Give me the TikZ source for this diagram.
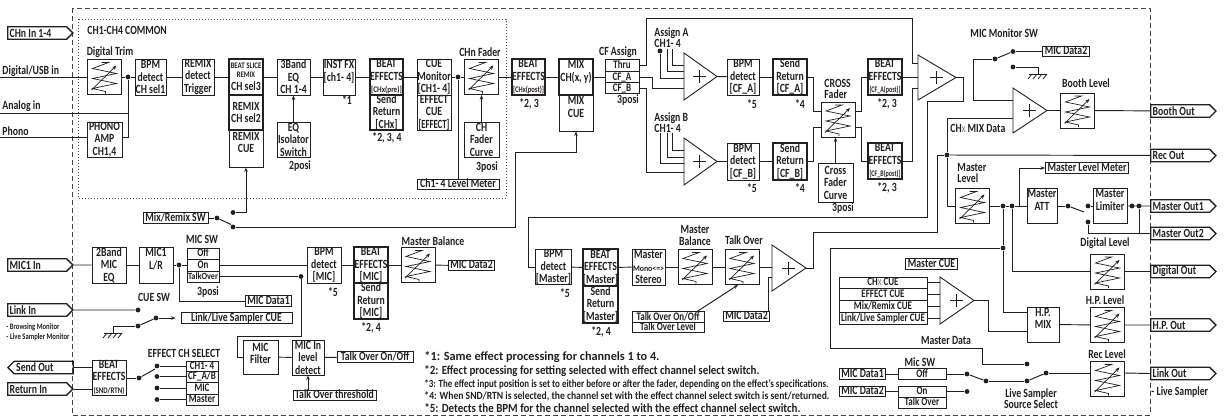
\documentclass[tikz,border=0pt]{standalone}
\usepackage{fontspec}
\usepackage{graphicx}
\setmainfont{Carlito}[FakeStretch=0.78]
\usetikzlibrary{shapes.symbols,arrows.meta,calc}
\definecolor{ink}{HTML}{231F20}
\newcommand\fw[2]{\resizebox{#1}{\height}{#2}}
\newcommand\mf{\fontsize{12.5}{12.5}\selectfont\bfseries}
\newcommand\rf{\fontsize{11.5}{11.5}\selectfont\bfseries}
\newcommand\sm{\fontsize{8.5}{8.5}\selectfont\bfseries}
\newcommand\smx{{\fontsize{9}{9}\selectfont\mdseries\color{ink!70}X}}
\newcommand\nsk{\spaceskip=0pt\xspaceskip=0pt\relax}
\newcommand\faderpic{%
 \begin{scope}[shift={(path picture bounding box.center)},line width=0.7pt]
 \draw (-3,-14.5) -- (4,-14.5) -- (-12,-8.5) -- (12,-3.5) -- (-12,1.5) -- (12,6.5) -- (-12,11.5) -- (1,14.5) -- (1,16.5);
 \draw[-{Stealth[length=4.5pt,width=3.5pt]}] (-13,13) -- (12,-11.5);
 \end{scope}}
\newcommand\summer[5]{%
 \draw[line width=0.9pt] (#2,{#3-#5/2}) -- ({#2+#4},#3) -- (#2,{#3+#5/2}) -- cycle;
 \coordinate (#1) at ({#2+0.48*#4},#3);
 \draw[line width=0.9pt] ($(#1)+(-6.5,0)$) -- ($(#1)+(6.5,0)$) ($(#1)+(0,-6.5)$) -- ($(#1)+(0,6.5)$);
 \coordinate (#1-out) at ({#2+#4},#3);}
\newcommand\gnd[2]{%
 \draw[line width=0.8pt] ({#1-9},#2) -- ({#1+9},#2);
 \foreach \k in {-6,-1,4,9}{\draw[line width=0.8pt] ({#1+\k},#2) -- ({#1+\k-4},{#2+5});}}
\begin{document}
\begin{tikzpicture}[x=1pt,y=-1pt,line width=0.95pt,draw=ink,text=ink,
 every node/.style={font=\mf},
 box/.style={draw=ink,line width=0.95pt,inner sep=0pt,align=center,minimum width=33pt,minimum height=36pt},
 tb/.style={box,line width=1.7pt},
 lab/.style={inner sep=0pt,align=center},
 lbox/.style={draw=ink,line width=0.95pt,inner xsep=2pt,inner ysep=0.5pt,text height=8pt,text depth=1.5pt},
 rowbox/.style={draw=ink,line width=0.95pt,inner sep=0pt,font=\rf,text height=7.5pt,text depth=1.5pt},
 dot/.style={circle,fill=ink,draw=none,inner sep=0pt,minimum size=4.8pt},
 fader/.style={draw=ink,line width=0.95pt,minimum width=34pt,minimum height=35pt,inner sep=0pt,path picture={\faderpic}},
 sigr/.style={signal,signal to=east,draw=ink,line width=1.3pt,minimum height=12.5pt,text width=55pt,inner xsep=2pt,inner ysep=0pt,align=left,execute at begin node=\nsk},
 sigl/.style={sigr,signal to=west},
 arr/.style={-{Stealth[length=4.5pt,width=3.5pt]}},
 note/.style={inner sep=0pt,anchor=west}]
\useasboundingbox (0,0) rectangle (1225,418);
% frames
\draw[ink!85,line width=0.9pt,dash pattern=on 5pt off 3pt] (72,8) rectangle (1150,415);
\draw[ink!85,line width=0.9pt,dash pattern=on 1pt off 2pt] (78,19) rectangle (506,198);
% ---------------- channel strip
\node[lab,anchor=west] (tcommon) at (87,30) {CH1-CH4 COMMON};
\node[sigr,anchor=west] (chnin) at (7,33) {CHn In 1-4};
\node[lab,anchor=south west] (tdig) at (2,77) {Digital/USB in};
\node[lab,anchor=south west] (tana) at (2,112.5) {Analog in};
\node[lab,anchor=south west] (tpho) at (2,136) {Phono};
\coordinate (idig) at (0,77); \coordinate (iana) at (0,113); \coordinate (ipho) at (0,137);
\node[lab] (ttrim) at (110,52) {Digital Trim};
\node[fader] (trim) at (104.5,77) {};
\node[dot] (d1) at (128,77) {};
\node[box,minimum width=31pt] (bpm1) at (150.5,77) {BPM\\detect\\CH sel1};
\node[box,minimum width=32pt] (remix) at (198,77) {REMIX\\detect\\Trigger};
\node[box,minimum width=34pt,minimum height=37pt] (bs3) at (246,148.5) {REMIX\\CUE\\\mbox{}};
\node[tb,minimum width=34pt] (bs1) at (246,77) {\fw{31pt}{\sm BEAT SLICE}\\[-4pt]{\sm REMIX}\\[1pt]CH sel3};
\node[tb,minimum width=34pt,minimum height=35pt] (bs2) at (246,112.5) {REMIX\\CH sel2};
\node[box,minimum width=33pt] (eq) at (293.5,77) {3Band\\EQ\\CH 1-4};
\node[box,minimum width=33pt,minimum height=35pt] (eqiso) at (293.5,139.5) {EQ\\Isolator\\Switch};
\node[lab] (t2posi) at (300,166) {2posi};
\node[box,minimum width=35pt,minimum height=35pt] (phono) at (104.5,139.5) {PHONO\\AMP\\CH1,4};
\node[box,minimum width=32pt] (inst) at (339,77) {INST FX\\{[ch1- 4]}\\\mbox{}};
\node[lab] (n1) at (347,100) {*1};
\node[tb] (bepre) at (386.5,77) {BEAT\\EFFECTS\\\fw{31pt}{\sm [CHx(pre)]}};
\node[tb,minimum height=35pt] (srpre) at (386.5,112.5) {Send\\Return\\{[CHx]}};
\node[lab] (n234) at (387,138) {*2, 3, 4};
\node[box,minimum width=34pt] (cuemon) at (434,77) {CUE\\Monitor\\{[CH1- 4]}};
\node[box,minimum width=34pt,minimum height=35pt] (effcue) at (434,112.5) {EFFECT\\CUE\\\fw{31pt}{[EFFECT]}};
\node[dot] (d2) at (458,77) {};
\node[lab] (tchf) at (480,52) {CHn Fader};
\node[fader] (chf) at (481.5,77) {};
\node[box,minimum width=35pt,minimum height=35pt] (chcurve) at (481.5,139.5) {CH\\Fader\\Curve};
\node[lab] (t3posi1) at (487,167) {3posi};
\node[lbox,minimum width=82pt] (lvlm) at (458,184.5) {Ch1- 4 Level Meter};
\node[tb] (bepost) at (528.5,77) {BEAT\\EFFECTS\\\fw{31pt}{\sm [CHx(post)]}};
\node[lab] (n23a) at (529,104) {*2, 3};
\node[box,minimum width=34pt] (mixcue) at (576,113) {MIX\\CUE\\\mbox{}};
\node[tb,minimum width=34pt] (mix) at (576,77) {MIX\\CH(x, y)\\\mbox{}};
\draw (idig) -- (trim);
\foreach \a/\b in {trim/d1,d1/bpm1,bpm1/remix,remix/bs1,bs1/eq,eq/inst,inst/bepre,bepre/cuemon,cuemon/d2,d2/chf,chf/bepost,bepost/mix}
  \draw (\a) -- (\b);
\draw (iana) -| (d1);
\draw (ipho) -- (ipho -| phono.west);
\draw (phono.east |- ipho) -| (d1);
\draw[arr] (eqiso.north) -- (eq.south);
\draw[arr] (chcurve.north) -- (chf.south);
\draw (d2) -- (lvlm);
% ---------------- CF assign & cross fader
\node[lab] (tcfa) at (618,52) {CF Assign};
\node[rowbox,minimum width=34pt,minimum height=11.5pt] (thru) at (622,65.5) {Thru};
\node[rowbox,minimum width=34pt,minimum height=11.5pt] (cfa) at (622,77) {CF\_A};
\node[rowbox,minimum width=34pt,minimum height=10.5pt] (cfb) at (622,88) {CF\_B};
\node[lab] (t3posi2) at (628,100) {3posi};
\draw (mix) -- (mix.east -| cfa.west);
\node[lab,anchor=west] (tasA1) at (654,33) {Assign A};
\node[lab,anchor=west] (tasA2) at (654,43.5) {CH1- 4};
\node[lab,anchor=west] (tasB1) at (654,118) {Assign B};
\node[lab,anchor=west] (tasB2) at (654,128.5) {CH1- 4};
\summer{sA}{684}{76.5}{33}{47}
\summer{sB}{684}{161.5}{33}{47}
\node[dot] (dasA) at (660,51) {};
\draw (dasA) |- (684,78);
\draw (667,49) |- (684,71.5);
\draw (672,49) |- (684,65);
\draw (660,133) |- (684,163.5);
\draw (667,133) |- (684,157);
\draw (672,133) |- (684,150.5);
\draw (thru.east) -| (646,18) -| (912,63) -- (918,63);
\draw (cfa.east) -| (652,88) -- (684,88);
\draw (cfb.east) -| (646,172) -- (684,172);
\node[box,minimum width=32pt] (bpmA) at (743,77) {BPM\\detect\\{[CF\_A]}};
\node[lab] (n5a) at (752,104) {*5};
\node[tb,minimum width=34pt] (srA) at (790,77) {Send\\Return\\{[CF\_A]}};
\node[lab] (n4a) at (800,104) {*4};
\node[box,minimum width=32pt,minimum height=37pt] (bpmB) at (743,161.5) {BPM\\detect\\{[CF\_B]}};
\node[lab] (n5b) at (752,188) {*5};
\node[tb,minimum width=34pt,minimum height=37pt] (srB) at (790,161.5) {Send\\Return\\{[CF\_B]}};
\node[lab] (n4b) at (800,188) {*4};
\draw (sA-out) -- (bpmA); \draw (bpmA) -- (srA);
\draw (sB-out) -- (bpmB); \draw (bpmB) -- (srB);
\node[lab,align=left,anchor=west] (tcross) at (824,88.5) {CROSS\\[-1.5pt]Fader};
\node[fader] (xf) at (838,119.5) {};
\coordinate (xfa) at (821,111); \coordinate (xfb) at (821,127);
\coordinate (xfao) at (855,111); \coordinate (xfbo) at (855,127);
\node[box,minimum width=35pt,minimum height=39pt] (xcurve) at (835.5,182.5) {Cross\\Fader\\Curve};
\node[lab] (t3posi3) at (843,208) {3posi};
\draw[arr] (xcurve.north) -- (xcurve.north |- xf.south);
\node[tb,minimum width=34pt] (beA) at (885,77) {BEAT\\EFFECTS\\\fw{31pt}{\sm [CF\_A(post)]}};
\node[lab] (n23b) at (887,104) {*2, 3};
\node[tb,minimum width=34pt] (beB) at (885,161) {BEAT\\EFFECTS\\\fw{31pt}{\sm [CF\_B(post)]}};
\node[lab] (n23c) at (887,188) {*2, 3};
\draw (srA.east) -| (813,111) -- (xfa);
\draw (srB.east) -| (813,127) -- (xfb);
\draw (xfao) -| (861,77) -- (beA.west);
\draw (xfbo) -| (861,161) -- (beB.west);
\summer{sM}{918}{77.5}{38}{45}
\draw (beA) -- (918,77);
\draw (beB.east) -| (912,88) -- (918,88);
% ---------------- booth / MIC monitor
\node[lab,anchor=west] (tmms) at (970,33) {MIC Monitor SW};
\node[dot] (pm) at (995,59) {};
\node[dot] (pu) at (1013,51.5) {};
\node[dot] (pl) at (1013,67) {};
\node[lbox] (md2t) at (1066,51.5) {MIC Data2};
\draw (pm) -- (pu); \draw (pu) -- (md2t);
\draw (pl) -- (1038,67) -- (1038,74);
\gnd{1038}{74}
\summer{sBo}{1013}{110.5}{34}{45}
\draw (pm) -- (973,59) -- (973,100) -- (1013,100);
\node[lab] (tbooth) at (1086,83) {Booth Level};
\node[fader] (booth) at (1077.5,110.5) {};
\node[sigr,anchor=west] (boothout) at (1150,111) {Booth Out};
\draw (sBo-out) -- (booth); \draw (booth) -- (boothout);
\node[dot] (dR) at (947,155) {};
\node[sigr,anchor=west] (recout) at (1150,155.5) {Rec Out};
\draw (dR) -- (recout);
\draw (dR) -- (947,118) -- (1013,118);
\node[lab,anchor=west] (tchx) at (950,128) {CH\smx{} MIX Data};
% ---------------- master outputs
\node[lab,align=left,anchor=west] (tmlvl) at (957,172.5) {Master\\[-1.5pt]Level};
\node[fader] (mlvl) at (972.5,206) {};
\draw (dR) -- (947,206) -- (mlvl.west);
\node[dot] (dA2) at (1003,206) {};
\node[dot] (dB2) at (1012,206) {};
\node[box,minimum width=30pt,minimum height=35pt] (att) at (1042,206) {Master\\ATT\\\mbox{}};
\draw (mlvl) -- (dA2); \draw (dA2) -- (dB2); \draw (dB2) -- (att);
\node[lbox] (mlm) at (1087,168) {Master Level Meter};
\draw[arr] (1019,206) -- (1019,168) -- (mlm.west);
\node[dot] (sp) at (1068,206) {};
\node[dot] (su) at (1088,206) {};
\node[dot] (sl) at (1088,222) {};
\node[box,minimum width=34pt,minimum height=35pt] (lim) at (1110,206) {Master\\Limiter\\\mbox{}};
\draw (att) -- (sp); \draw (sp) -- (1084,212); \draw (su) -- (lim);
\node[dot] (lo1) at (1132,206) {};
\node[dot] (lo2) at (1139,206) {};
\node[sigr,anchor=west] (mout1) at (1150,206) {Master Out1};
\node[sigr,anchor=west] (mout2) at (1150,233.5) {Master Out2};
\draw (lim) -- (mout1);
\draw (lo2) -- (1139,233.5);
\draw (sl) -- (1088,233.5) -- (mout2.west);
\node[lab] (tdl) at (1105,243) {Digital Level};
\node[fader] (dl) at (1107.5,271.5) {};
\node[sigr,anchor=west] (digout) at (1150,271.5) {Digital Out};
\draw (dB2) |- (dl.west); \draw (dl) -- (digout);
\node[dot] (dC) at (1003,248) {};
\node[box,minimum width=32pt,minimum height=35pt] (hpmix) at (1043,324.5) {H.P.\\MIX\\\mbox{}};
\draw (dA2) -- (dC); \draw (dC) |- ($(hpmix.west)+(0,-12.5)$);
\node[lab] (thpl) at (1105,300) {H.P. Level};
\node[fader] (hpl) at (1107.5,325) {};
\node[sigr,anchor=west] (hpout) at (1150,325) {H.P. Out};
\draw (hpmix) -- (hpl); \draw (hpl) -- (hpout);
\node[lab] (trecl) at (1107,354) {Rec Level};
\node[fader] (recl) at (1107.5,379) {};
\node[sigr,anchor=west] (linkout) at (1150,373.5) {Link Out};
\draw ($(recl.east)+(0,-6)$) -- (linkout.west);
\node[lab,anchor=west] (tls) at (1151,392) {- Live Sampler};
% ---------------- master CUE
\node[lbox] (mcue) at (931.5,264) {Master CUE};
\node[rowbox,minimum width=88pt,minimum height=11.75pt] (c1) at (883,282.9) {CH\smx{} CUE};
\node[rowbox,minimum width=88pt,minimum height=11.75pt] (c2) at (883,294.6) {EFFECT CUE};
\node[rowbox,minimum width=88pt,minimum height=11.75pt] (c3) at (883,306.4) {Mix/Remix CUE};
\node[rowbox,minimum width=88pt,minimum height=11.75pt] (c4) at (883,318.1) {\fw{84pt}{Link/Live Sampler CUE}};
\summer{sC}{940}{300.5}{34}{47}
\foreach \c in {c1,c2,c3,c4} \draw (\c.east) -- ++(13,0);
\draw (sC-out) -- (988,300.5) |- ($(hpmix.west)+(0,6.5)$);
% ---------------- live sampler source
\node[lab] (tmd) at (946,340) {Master Data};
\node[lab] (tmicsw2) at (920,362) {Mic SW};
\node[rowbox,minimum width=48pt,minimum height=11pt] (loff) at (922,374) {Off};
\node[rowbox,minimum width=48pt,minimum height=11pt] (lon) at (922,391.5) {On};
\node[rowbox,minimum width=48pt,minimum height=11pt] (lto) at (922,402.5) {Talk Over};
\node[lbox] (md1b) at (862.5,374) {MIC Data1};
\node[lbox] (md2b) at (862.5,391.5) {MIC Data2};
\draw (md1b) -- (loff); \draw (md2b) -- (lon);
\node[dot] (lc1) at (967,374) {};
\node[dot] (lc2) at (967,391.5) {};
\node[dot] (lpv) at (986,381) {};
\node[dot] (lsu) at (1027,364) {};
\node[dot] (lsl) at (1027,381) {};
\node[dot] (lsp) at (1046,373) {};
\draw (loff) -- (lc1); \draw (lon) -- (lc2);
\draw (lc1) -- (lpv); \draw (lpv) -- (lsl); \draw (lsl) -- (lsp);
\draw (lsp) -- ($(recl.west)+(0,-6)$);
\draw (dC) -- (830,248) -- (830,348) -- (982,348) -- (982,364) -- (lsu);
\node[lab] (tlss) at (1031,398.5) {Live Sampler\\[-1.5pt]Source Select};
% ---------------- master chain
\node[box,minimum width=33pt,minimum height=34pt] (bpmM) at (553.5,267) {BPM\\detect\\{[Master]}};
\node[lab] (n5m) at (565,293) {*5};
\node[tb,minimum width=33pt,minimum height=37pt] (beM) at (600.5,267.5) {BEAT\\EFFECTS\\{[Master]}};
\node[tb,minimum width=33pt,minimum height=37pt] (srM) at (600.5,304.5) {Send\\Return\\{[Master]}};
\node[lab] (n24m) at (601,332) {*2, 4};
\node[box,minimum width=33pt] (mono) at (648.5,267) {Master\\\fw{31pt}{\sm Mono<=>}\\Stereo};
\node[lab] (tmbal) at (695,235) {Master\\[-0.5pt]Balance};
\node[fader] (mbal) at (695,267) {};
\node[lab] (ttov) at (744,240) {Talk Over};
\node[fader] (tov) at (742,267) {};
\summer{sT}{772}{268}{34}{46}
\draw (sM-out) -- (963,77.5) -- (963,101) -- (927,101) -- (927,217) -- (528,217) -- (528,267) -- (bpmM.west);
\foreach \a/\b in {bpmM/beM,beM/mono,mono/mbal,mbal/tov} \draw (\a) -- (\b);
\draw (tov) -- (772,267);
\node[lbox] (md2m) at (746.5,316.5) {MIC Data2};
\draw ($(md2m.north east)+(-1.5,0)$) |- (772,277);
\node[rowbox,minimum width=72pt,minimum height=10.5pt] (toof) at (668,317) {Talk Over On/Off};
\node[rowbox,minimum width=72pt,minimum height=10.5pt] (tolv) at (668,327.5) {Talk Over Level};
\draw[arr] ($(toof.north east)+(-7,0)$) -- ($(tov.south)+(-4,0)$);
\draw (sT-out) -- (813,268) -- (813,232) -- (937,232) -- (937,155) -- (dR);
% ---------------- MIC section
\node[sigr,anchor=west] (mic1in) at (7,265) {MIC1 In};
\node[box,minimum width=34pt] (eq2) at (109,265) {2Band\\MIC\\EQ};
\node[box,minimum width=34pt] (miclr) at (156,265) {MIC1\\L/R\\\mbox{}};
\node[dot] (dm) at (179,265) {};
\node[lab] (tmicsw) at (202,239) {MIC SW};
\node[rowbox,minimum width=32pt,minimum height=11pt] (moff) at (203,253.5) {Off};
\node[rowbox,minimum width=32pt,minimum height=12pt] (mon) at (203,265) {On};
\node[rowbox,minimum width=32pt,minimum height=11pt] (mto) at (203,276.5) {\fw{30pt}{\fontsize{9.5}{9.5}\selectfont\bfseries TalkOver}};
\node[lab] (t3posi4) at (208,292) {3posi};
\draw (mic1in) -- (eq2); \draw (eq2) -- (miclr); \draw (miclr) -- (dm); \draw (dm) -- (mon);
\node[lbox] (md1) at (268.5,301) {MIC Data1};
\draw (dm) |- (md1.west);
\node[box,minimum width=34pt] (bpmmic) at (324,265) {BPM\\detect\\{[MIC]}};
\node[lab] (n5mic) at (333,292) {*5};
\draw (mon) -- (bpmmic);
\node[dot] (dt) at (301,276.5) {};
\draw (mto) -- (dt);
\node[box,minimum width=35pt,minimum height=34pt] (micf) at (260.5,357) {MIC\\Filter\\[-5pt]\mbox{}};
\draw (dt) -- (301,336) -- (237,336) -- (237,357) -- (micf.west);
\node[box,minimum width=32pt,minimum height=35pt] (mild) at (308,357.5) {MIC In\\level\\detect};
\draw (micf) -- (mild);
\node[lbox,minimum width=83pt] (toth) at (334.5,395.5) {Talk Over threshold};
\draw[arr] (toth.north -| mild.south) -- (mild.south);
\node[lbox,minimum width=76pt] (toon) at (375,357) {Talk Over On/Off};
\draw (mild) -- (toon);
\node[tb,minimum width=34pt] (bemic) at (371,265) {BEAT\\EFFECTS\\{[MIC]}};
\node[tb,minimum width=34pt] (srmic) at (371,301) {Send\\Return\\{[MIC]}};
\node[lab] (n24mic) at (371,328) {*2, 4};
\draw (bpmmic) -- (bemic);
\node[lab] (tmbal2) at (433,241) {Master Balance};
\node[fader] (mbal2) at (418,265) {};
\node[lbox] (md2mic) at (471.5,265.5) {MIC Data2};
\draw (bemic) -- (mbal2); \draw (mbal2) -- (md2mic);
% ---------------- Mix/Remix SW
\node[lbox,minimum width=65pt] (mrsw) at (175.5,218) {Mix/Remix SW};
\node[dot] (ms) at (217,218) {};
\node[dot] (mu) at (233,212.5) {};
\node[dot] (ml) at (233,227) {};
\draw (mrsw) -- (ms); \draw (ms) -- (231,224.5);
\draw[arr] (mu) -| (bs3.south);
\draw[arr] (ml) -- (515,227) -- (515,152) -| (mixcue.south);
% ---------------- Link In / CUE SW
\node[sigr,anchor=west] (linkin) at (7,310) {Link In};
\node[lab,anchor=west] (tbm) at (6,327) {\fw{53pt}{\sm - Browsing Monitor}};
\node[lab,anchor=west] (tlsm) at (6,337) {\fw{63pt}{\sm - Live Sampler Monitor}};
\node[lab] (tcuesw) at (154,297) {CUE SW};
\node[dot] (cu1) at (138,310) {};
\node[dot] (cu2) at (138,326) {};
\node[dot] (cup) at (156,318) {};
\draw (linkin) -- (cu1);
\draw (cu2) -- (cup);
\draw (cu2) -- (113,326) -- (113,333);
\gnd{113}{333}
\node[lbox,minimum width=111pt] (lscue) at (236.5,318) {Link/Live Sampler CUE};
\draw[arr] (cup) -- ($(lscue.west)+(-5,0)$);
% ---------------- Send / Return
\node[sigl,anchor=west] (sendout) at (7,367.5) {Send Out};
\node[sigr,anchor=west] (retin) at (7,389) {Return In};
\node[box,minimum width=34pt,minimum height=35pt] (besr) at (109,377.5) {BEAT\\EFFECTS\\\fw{31pt}{\sm (SND/RTN)}};
\draw (sendout.east) -- (sendout.east -| besr.west);
\draw (retin.east) -- (retin.east -| besr.west);
\node[lab] (tecs) at (184,353) {EFFECT CH SELECT};
\node[dot] (ep) at (139,378) {};
\draw (besr.east |- ep) -- (ep);
\draw (ep) -- (155,369);
\node[rowbox,minimum width=32pt,minimum height=10pt] (e1r) at (202,366) {CH1- 4};
\node[rowbox,minimum width=32pt,minimum height=11pt] (e2r) at (202,376.5) {CF\_A/B};
\node[rowbox,minimum width=32pt,minimum height=12pt] (e3r) at (202,388) {MIC};
\node[rowbox,minimum width=32pt,minimum height=11pt] (e4r) at (202,399.5) {Master};
\node[dot] (e1) at (157,366) {};
\node[dot] (e2) at (157,376.5) {};
\node[dot] (e3) at (157,388) {};
\node[dot] (e4) at (157,399.5) {};
\foreach \a/\b in {e1/e1r,e2/e2r,e3/e3r,e4/e4r} \draw (\a) -- (\b);
% ---------------- footnotes
\node[note] (f1) at (424,357) {\fw{235pt}{*1: Same effect processing for channels 1 to 4.}};
\node[note] (f2) at (424,371) {\fw{335pt}{*2: Effect processing for setting selected with effect channel select switch.}};
\node[note] (f3) at (424,384) {\fw{404pt}{\fontsize{11}{11}\selectfont\bfseries *3: The effect input position is set to either before or after the fader, depending on the effect's specifications.}};
\node[note] (f4) at (424,396.5) {\fw{405pt}{\fontsize{11}{11}\selectfont\bfseries *4: When SND/RTN is selected, the channel set with the effect channel select switch is sent/returned.}};
\node[note] (f5) at (424,408) {\fw{376pt}{*5: Detects the BPM for the channel selected with the effect channel select switch.}};
\end{tikzpicture}
\end{document}
